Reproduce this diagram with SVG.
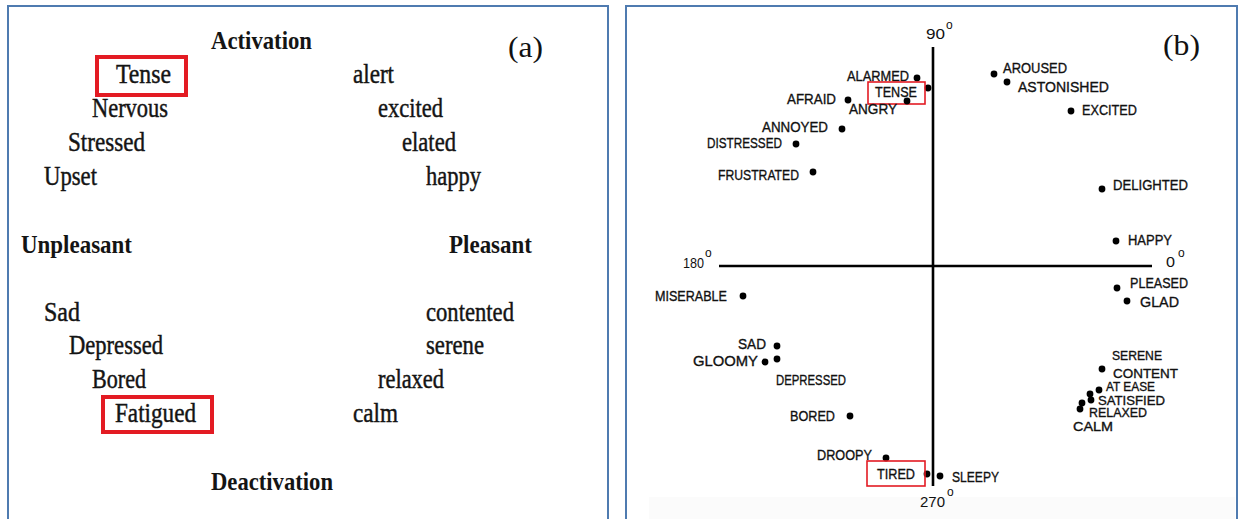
<svg xmlns="http://www.w3.org/2000/svg" width="1238" height="519" viewBox="0 0 1238 519">
<style>
.frame{fill:none;stroke:#4f7bb0;stroke-width:2}
.w{font-family:"Liberation Serif","Times New Roman",serif;font-size:27px;fill:#141414;stroke:#141414;stroke-width:0.45}
.b{font-family:"Liberation Serif","Times New Roman",serif;font-size:26px;font-weight:bold;fill:#141414}
.tag{font-family:"Liberation Serif","Times New Roman",serif;font-size:29px;fill:#111}
.l{font-family:"Liberation Sans",Arial,sans-serif;font-size:15px;fill:#111;stroke:#111;stroke-width:0.35}
.c{font-size:13.5px}
.deg{font-family:"Liberation Sans",Arial,sans-serif;font-size:14px;fill:#111}
.sup{font-family:"Liberation Sans",Arial,sans-serif;font-size:12px;fill:#111}
.hl{fill:none;stroke:#e31b23;stroke-width:4}
.hl2{fill:none;stroke:#e31b23;stroke-width:1.6}
.dot{fill:#000}
.axis{stroke:#000;stroke-width:2.6;fill:none}
</style>
<rect width="1238" height="519" fill="#fff"/>
<rect x="649" y="497" width="586" height="22" fill="#fbfbfb"/>
<!-- panel frames -->
<g id="frames">
<path class="frame" d="M8 519 V6 H608 V519"/>
<path class="frame" d="M626 519 V6 H1237 V519"/>
</g>
<!-- panel (a) -->
<g id="panel-a">
<text class="tag" x="508" y="57" textLength="35" lengthAdjust="spacingAndGlyphs">(a)</text>
<g id="a-activation"><text class="b" x="211" y="49" textLength="101" lengthAdjust="spacingAndGlyphs">Activation</text></g>
<g id="a-unpleasant"><text class="b" x="21" y="253" textLength="111" lengthAdjust="spacingAndGlyphs">Unpleasant</text></g>
<g id="a-pleasant"><text class="b" x="449" y="253" textLength="83" lengthAdjust="spacingAndGlyphs">Pleasant</text></g>
<g id="a-deactivation"><text class="b" x="211" y="490" textLength="122" lengthAdjust="spacingAndGlyphs">Deactivation</text></g>
<g id="a-tense"><rect class="hl" x="97" y="57" width="89" height="38"/><text class="w" x="116" y="83" textLength="55" lengthAdjust="spacingAndGlyphs">Tense</text></g>
<g id="a-nervous"><text class="w" x="92" y="117" textLength="76" lengthAdjust="spacingAndGlyphs">Nervous</text></g>
<g id="a-stressed"><text class="w" x="68" y="151" textLength="77" lengthAdjust="spacingAndGlyphs">Stressed</text></g>
<g id="a-upset"><text class="w" x="44" y="185" textLength="53" lengthAdjust="spacingAndGlyphs">Upset</text></g>
<g id="a-alert"><text class="w" x="353" y="83" textLength="41" lengthAdjust="spacingAndGlyphs">alert</text></g>
<g id="a-excited"><text class="w" x="378" y="117" textLength="65" lengthAdjust="spacingAndGlyphs">excited</text></g>
<g id="a-elated"><text class="w" x="402" y="151" textLength="54" lengthAdjust="spacingAndGlyphs">elated</text></g>
<g id="a-happy"><text class="w" x="426" y="185" textLength="55" lengthAdjust="spacingAndGlyphs">happy</text></g>
<g id="a-sad"><text class="w" x="44" y="321" textLength="36" lengthAdjust="spacingAndGlyphs">Sad</text></g>
<g id="a-depressed"><text class="w" x="69" y="354" textLength="94" lengthAdjust="spacingAndGlyphs">Depressed</text></g>
<g id="a-bored"><text class="w" x="92" y="388" textLength="54" lengthAdjust="spacingAndGlyphs">Bored</text></g>
<g id="a-fatigued"><rect class="hl" x="103" y="397" width="109" height="35"/><text class="w" x="115" y="422" textLength="81" lengthAdjust="spacingAndGlyphs">Fatigued</text></g>
<g id="a-contented"><text class="w" x="426" y="321" textLength="88" lengthAdjust="spacingAndGlyphs">contented</text></g>
<g id="a-serene"><text class="w" x="426" y="354" textLength="58" lengthAdjust="spacingAndGlyphs">serene</text></g>
<g id="a-relaxed"><text class="w" x="378" y="388" textLength="66" lengthAdjust="spacingAndGlyphs">relaxed</text></g>
<g id="a-calm"><text class="w" x="353" y="422" textLength="45" lengthAdjust="spacingAndGlyphs">calm</text></g>
</g>
<!-- panel (b) -->
<g id="connectors">
<line class="axis" x1="933" y1="47" x2="933" y2="486"/>
<line class="axis" x1="719" y1="266" x2="1152" y2="266"/>
</g>
<g id="panel-b">
<text class="tag" x="1163" y="55" textLength="37" lengthAdjust="spacingAndGlyphs">(b)</text>
<g id="b-90"><text class="deg" x="926" y="39" textLength="19" lengthAdjust="spacingAndGlyphs">90</text><text class="sup" x="946" y="29">o</text></g>
<g id="b-180"><text class="deg" x="683" y="268" textLength="21" lengthAdjust="spacingAndGlyphs">180</text><text class="sup" x="705" y="257">o</text></g>
<g id="b-0"><text class="deg" x="1166" y="267" textLength="9" lengthAdjust="spacingAndGlyphs">0</text><text class="sup" x="1178" y="257">o</text></g>
<g id="b-270"><text class="deg" x="920" y="507" textLength="25" lengthAdjust="spacingAndGlyphs">270</text><text class="sup" x="947" y="496">o</text></g>

<g id="b-alarmed"><circle class="dot" cx="917" cy="78" r="3.4"/><text class="l" x="847" y="81" textLength="62" lengthAdjust="spacingAndGlyphs">ALARMED</text></g>
<g id="b-tense"><circle class="dot" cx="928" cy="88" r="3.4"/><rect class="hl2" x="868" y="82" width="57" height="22"/><text class="l" x="875" y="97" textLength="42" lengthAdjust="spacingAndGlyphs">TENSE</text></g>
<g id="b-afraid"><circle class="dot" cx="848" cy="100" r="3.4"/><text class="l" x="787" y="104" textLength="49" lengthAdjust="spacingAndGlyphs">AFRAID</text></g>
<g id="b-angry"><circle class="dot" cx="907" cy="101" r="3.4"/><text class="l" x="849" y="114" textLength="48" lengthAdjust="spacingAndGlyphs">ANGRY</text></g>
<g id="b-annoyed"><circle class="dot" cx="842" cy="129" r="3.4"/><text class="l" x="762" y="132" textLength="66" lengthAdjust="spacingAndGlyphs">ANNOYED</text></g>
<g id="b-distressed"><circle class="dot" cx="796" cy="144" r="3.4"/><text class="l" x="707" y="148" textLength="75" lengthAdjust="spacingAndGlyphs">DISTRESSED</text></g>
<g id="b-frustrated"><circle class="dot" cx="813" cy="172" r="3.4"/><text class="l" x="718" y="180" textLength="81" lengthAdjust="spacingAndGlyphs">FRUSTRATED</text></g>
<g id="b-aroused"><circle class="dot" cx="994" cy="74" r="3.4"/><text class="l" x="1003" y="73" textLength="64" lengthAdjust="spacingAndGlyphs">AROUSED</text></g>
<g id="b-astonished"><circle class="dot" cx="1007" cy="82" r="3.4"/><text class="l" x="1018" y="92" textLength="91" lengthAdjust="spacingAndGlyphs">ASTONISHED</text></g>
<g id="b-excited"><circle class="dot" cx="1071" cy="111" r="3.4"/><text class="l" x="1082" y="115" textLength="55" lengthAdjust="spacingAndGlyphs">EXCITED</text></g>
<g id="b-delighted"><circle class="dot" cx="1102" cy="189" r="3.4"/><text class="l" x="1113" y="190" textLength="75" lengthAdjust="spacingAndGlyphs">DELIGHTED</text></g>
<g id="b-happy"><circle class="dot" cx="1116" cy="241" r="3.4"/><text class="l" x="1128" y="245" textLength="44" lengthAdjust="spacingAndGlyphs">HAPPY</text></g>
<g id="b-pleased"><circle class="dot" cx="1117" cy="288" r="3.4"/><text class="l" x="1130" y="288" textLength="58" lengthAdjust="spacingAndGlyphs">PLEASED</text></g>
<g id="b-glad"><circle class="dot" cx="1127" cy="301" r="3.4"/><text class="l" x="1140" y="307" textLength="39" lengthAdjust="spacingAndGlyphs">GLAD</text></g>
<g id="b-miserable"><circle class="dot" cx="743" cy="296" r="3.4"/><text class="l" x="655" y="301" textLength="72" lengthAdjust="spacingAndGlyphs">MISERABLE</text></g>
<g id="b-sad"><circle class="dot" cx="777" cy="346" r="3.4"/><text class="l" x="738" y="349" textLength="28" lengthAdjust="spacingAndGlyphs">SAD</text></g>
<g id="b-gloomy"><circle class="dot" cx="765" cy="362" r="3.4"/><text class="l" x="693" y="366" textLength="65" lengthAdjust="spacingAndGlyphs">GLOOMY</text></g>
<g id="b-depressed"><circle class="dot" cx="777" cy="359" r="3.4"/><text class="l" x="776" y="385" textLength="70" lengthAdjust="spacingAndGlyphs">DEPRESSED</text></g>
<g id="b-bored"><circle class="dot" cx="850" cy="416" r="3.4"/><text class="l" x="790" y="421" textLength="45" lengthAdjust="spacingAndGlyphs">BORED</text></g>
<g id="b-droopy"><circle class="dot" cx="886" cy="458" r="3.4"/><text class="l" x="817" y="460" textLength="55" lengthAdjust="spacingAndGlyphs">DROOPY</text></g>
<g id="b-tired"><circle class="dot" cx="927" cy="474" r="3.4"/><rect class="hl2" x="867" y="461" width="58" height="25"/><text class="l" x="877" y="479" textLength="38" lengthAdjust="spacingAndGlyphs">TIRED</text></g>
<g id="b-sleepy"><circle class="dot" cx="940" cy="476" r="3.4"/><text class="l" x="952" y="482" textLength="47" lengthAdjust="spacingAndGlyphs">SLEEPY</text></g>
<g id="b-serene"><text class="l c" x="1112" y="360" textLength="50" lengthAdjust="spacingAndGlyphs">SERENE</text></g>
<g id="b-content"><circle class="dot" cx="1102" cy="369" r="3.4"/><text class="l c" x="1113" y="378" textLength="65" lengthAdjust="spacingAndGlyphs">CONTENT</text></g>
<g id="b-atease"><circle class="dot" cx="1099" cy="390" r="3.4"/><text class="l c" x="1106" y="391" textLength="49" lengthAdjust="spacingAndGlyphs">AT EASE</text></g>
<g id="b-satisfied"><circle class="dot" cx="1090" cy="394" r="3.4"/><circle class="dot" cx="1091" cy="400" r="3.4"/><text class="l c" x="1098" y="405" textLength="67" lengthAdjust="spacingAndGlyphs">SATISFIED</text></g>
<g id="b-relaxed"><circle class="dot" cx="1082" cy="403" r="3.4"/><circle class="dot" cx="1080" cy="409" r="3.4"/><text class="l c" x="1089" y="417" textLength="58" lengthAdjust="spacingAndGlyphs">RELAXED</text></g>
<g id="b-calm"><text class="l c" x="1073" y="431" textLength="40" lengthAdjust="spacingAndGlyphs">CALM</text></g>
</g>
</svg>
